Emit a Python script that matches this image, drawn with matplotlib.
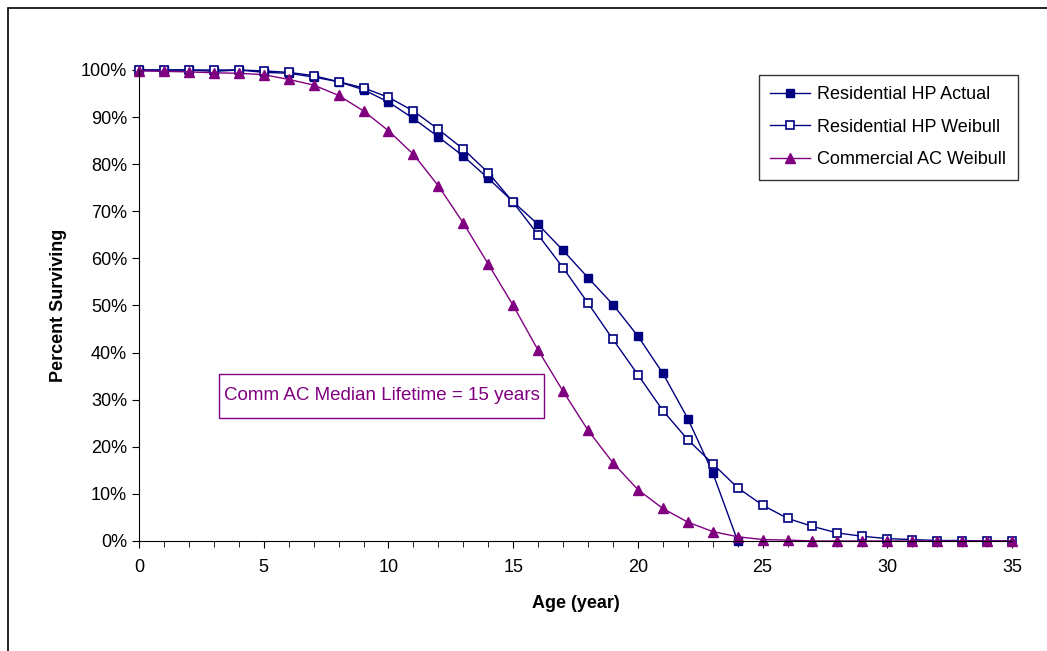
import numpy as np
import matplotlib.pyplot as plt
from matplotlib.patches import Rectangle
from matplotlib.ticker import FuncFormatter, MultipleLocator

plt.rcParams['font.family'] = ['Liberation Sans', 'DejaVu Sans']

age_actual = list(range(0, 25))
res_actual = [100, 100, 100, 99.7, 100, 99.5, 99.3, 98.5, 97.5, 95.8, 93.2, 89.7, 85.8,
              81.7, 77.0, 72.0, 67.2, 61.7, 55.9, 50.2, 43.5, 35.6, 26.0, 14.5, 0.0]

age = list(range(0, 36))
res_weibull = [100, 100, 100, 100, 100, 99.8, 99.5, 98.8, 97.5, 96.2, 94.2, 91.3, 87.4,
               83.2, 78.2, 71.9, 65.0, 58.0, 50.5, 42.8, 35.3, 27.7, 21.5, 16.4, 11.3,
               7.6, 4.8, 3.1, 1.7, 1.0, 0.5, 0.3, 0.1, 0.1, 0.0, 0.0]
comm_weibull = [99.8, 99.7, 99.6, 99.4, 99.3, 99.0, 98.0, 96.8, 94.6, 91.3, 87.1, 82.1,
                75.4, 67.5, 58.8, 50.0, 40.5, 31.8, 23.5, 16.6, 10.9, 6.9, 4.0, 2.0, 0.9,
                0.3, 0.2, 0.0, 0.0, 0.0, 0.0, 0.0, 0.0, 0.0, 0.0, 0.0]

navy = '#000080'
purple = '#800080'

fig = plt.figure(figsize=(10.47, 6.51), dpi=100)
ax = fig.add_axes([0.1328, 0.169, 0.8338, 0.7235])

ax.plot(age_actual, res_actual, color=navy, lw=1, marker='s', ms=5.5,
        mfc=navy, mec=navy, label='Residential HP Actual', clip_on=False)
ax.plot(age, res_weibull, color=navy, lw=1, marker='s', ms=6,
        mfc='white', mec=navy, mew=1.2, label='Residential HP Weibull', clip_on=False)
ax.plot(age, comm_weibull, color=purple, lw=1, marker='^', ms=6.5,
        mfc=purple, mec=purple, label='Commercial AC Weibull', clip_on=False)

ax.set_xlim(0, 35)
ax.set_ylim(0, 100)
ax.xaxis.set_major_locator(MultipleLocator(5))
ax.xaxis.set_minor_locator(MultipleLocator(1))
ax.yaxis.set_major_locator(MultipleLocator(10))
ax.yaxis.set_major_formatter(FuncFormatter(lambda v, p: f"{v:.0f}%"))
ax.tick_params(axis='both', which='major', length=5, labelsize=13, direction='out')
ax.tick_params(axis='x', which='minor', length=4, direction='out')
ax.tick_params(axis='x', pad=8)
ax.spines['top'].set_visible(False)
ax.spines['right'].set_visible(False)

ax.set_xlabel('Age (year)', fontsize=13, fontweight='bold', labelpad=14)
ax.set_ylabel('Percent Surviving', fontsize=13, fontweight='bold', labelpad=10)

# annotation box
ax.add_patch(Rectangle((3.21, 26.1), 13.03, 9.4, fill=False, ec=purple, lw=1))
ax.text(9.72, 30.8, 'Comm AC Median Lifetime = 15 years', color=purple, fontsize=13.5,
        ha='center', va='center')

leg = ax.legend(loc='upper right', bbox_to_anchor=(1.007, 0.99), fontsize=13,
                frameon=True, fancybox=False, edgecolor='black', handlelength=2.2,
                handletextpad=0.4, borderpad=0.65, labelspacing=0.85, borderaxespad=0)
leg.get_frame().set_linewidth(1)

fig.patches.append(Rectangle((0.008, -0.01), 1.1, 0.998, transform=fig.transFigure,
                             fill=False, ec='black', lw=1.2))

fig.savefig('out.png', dpi=100)
